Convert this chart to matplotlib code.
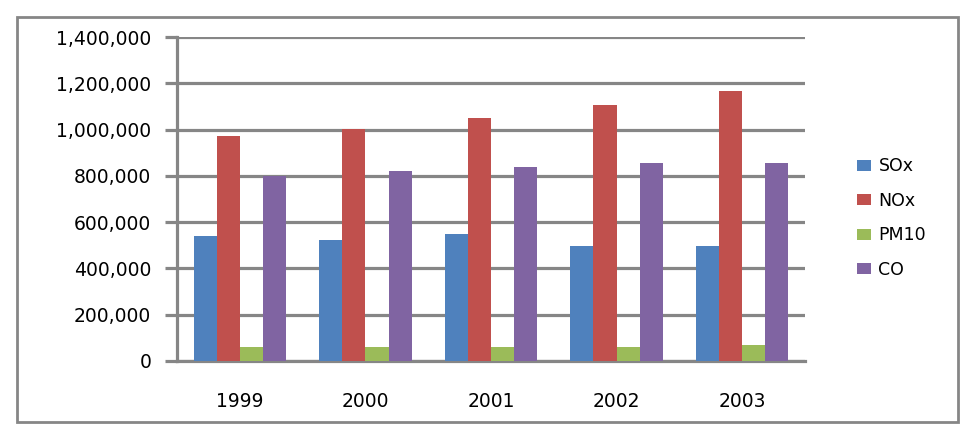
import numpy as np
import matplotlib
matplotlib.use("Agg")
from matplotlib import pyplot as plt
from matplotlib.patches import Rectangle
from matplotlib.ticker import FuncFormatter

years = ["1999", "2000", "2001", "2002", "2003"]
series = ["SOx", "NOx", "PM10", "CO"]
sox = [542000, 524000, 549000, 495000, 495000]
nox = [971000, 1004000, 1050000, 1105000, 1167000]
pm10 = [61000, 61000, 61000, 61000, 69000]
co = [799000, 823000, 838000, 855000, 855000]
colors = ["#4F81BD", "#C0504D", "#9BBB59", "#8064A2"]
grey = "#868686"

W, H = 969, 429
fig = plt.figure(figsize=(W/100, H/100), dpi=100)
plt.rcParams['font.family'] = ['DejaVu Sans']

# outer chart frame
fig.patches.append(Rectangle((17/W, 1-422/H), (958-17)/W, (422-17)/H,
	transform=fig.transFigure, fill=False, edgecolor=grey, lw=2))

ax = fig.add_axes([177/W, 1-361/H, (805-177)/W, (361-37)/H])
x = np.arange(len(years))
w = 0.184
for i, (name, vals) in enumerate(zip(series, [sox, nox, pm10, co])):
	ax.bar(x + (i-1.5)*w, vals, w, color=colors[i], label=name, zorder=3)

ax.set_xlim(-0.5, 4.5)
ax.set_ylim(0, 1400000)
ax.set_yticks(np.arange(0, 1400001, 200000))
ax.yaxis.set_major_formatter(FuncFormatter(lambda v, p: "{:,.0f}".format(v)))
ax.set_xticks(x)
ax.set_xticklabels(years)
ax.grid(axis='y', color=grey, lw=2.3, zorder=0)
ax.set_axisbelow(True)
for s in ['top', 'right']:
	ax.spines[s].set_visible(False)
for s in ['left', 'bottom']:
	ax.spines[s].set_color(grey)
	ax.spines[s].set_linewidth(2.3)
ax.tick_params(axis='y', length=8.5, width=2.3, color=grey, pad=10, labelsize=13.5)
ax.tick_params(axis='x', length=0, pad=22, labelsize=13.5)

ax.legend(loc='center left', bbox_to_anchor=(848/W, 1-218/H), bbox_transform=fig.transFigure,
	frameon=False, fontsize=12.5, borderpad=0, handlelength=0.85, handleheight=0.6,
	handletextpad=0.4, labelspacing=0.95)

fig.savefig("out.png", dpi=100)
